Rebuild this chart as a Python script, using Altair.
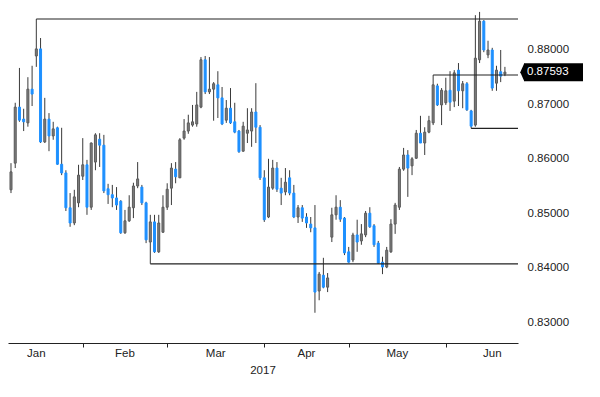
import altair as alt
import pandas as pd

# ---- data (EUR/GBP daily candles) ----
dates = pd.bdate_range("2017-01-09", "2017-06-21")

opens = [
    0.8543, 0.8592, 0.8695, 0.8673, 0.8666, 0.8728, 0.8789, 0.8802, 0.8631, 0.8673,
    0.8642, 0.8657, 0.8590, 0.8574, 0.8510, 0.8482, 0.8519, 0.8568, 0.8589, 0.8511,
    0.8594, 0.8636, 0.8625, 0.8545, 0.8534, 0.8528, 0.8522, 0.8464, 0.8486, 0.8510,
    0.8550, 0.8548, 0.8519, 0.8447, 0.8484, 0.8429, 0.8465, 0.8511, 0.8546, 0.8581,
    0.8565, 0.8638, 0.8651, 0.8662, 0.8664, 0.8695, 0.8782, 0.8723, 0.8728, 0.8736,
    0.8712, 0.8671, 0.8693, 0.8668, 0.8651, 0.8614, 0.8647, 0.8651, 0.8686, 0.8658,
    0.8565, 0.8493, 0.8546, 0.8583, 0.8546, 0.8539, 0.8565, 0.8537, 0.8493, 0.8510,
    0.8493, 0.8480, 0.8473, 0.8357, 0.8386, 0.8364, 0.8456, 0.8497, 0.8511, 0.8491,
    0.8429, 0.8414, 0.8460, 0.8449, 0.8460, 0.8500, 0.8477, 0.8445, 0.8410, 0.8401,
    0.8429, 0.8480, 0.8511, 0.8581, 0.8607, 0.8587, 0.8601, 0.8647, 0.8629, 0.8649,
    0.8666, 0.8734, 0.8699, 0.8703, 0.8726, 0.8706, 0.8763, 0.8725, 0.8738, 0.8688,
    0.8662, 0.8782, 0.8853, 0.8791, 0.8800, 0.8739, 0.8760, 0.8756]

closes = [
    0.8576, 0.8695, 0.8671, 0.8668, 0.8728, 0.8719, 0.8802, 0.8631, 0.8673, 0.8642,
    0.8655, 0.8590, 0.8574, 0.8510, 0.8482, 0.8530, 0.8570, 0.8589, 0.8511, 0.8629,
    0.8644, 0.8625, 0.8541, 0.8534, 0.8528, 0.8515, 0.8464, 0.8486, 0.8511, 0.8550,
    0.8563, 0.8519, 0.8451, 0.8484, 0.8429, 0.8482, 0.8511, 0.8544, 0.8583, 0.8567,
    0.8635, 0.8651, 0.8666, 0.8668, 0.8699, 0.8782, 0.8723, 0.8728, 0.8738, 0.8712,
    0.8664, 0.8693, 0.8666, 0.8649, 0.8613, 0.8660, 0.8653, 0.8686, 0.8658, 0.8565,
    0.8488, 0.8548, 0.8583, 0.8544, 0.8537, 0.8557, 0.8537, 0.8493, 0.8510, 0.8491,
    0.8482, 0.8473, 0.8355, 0.8388, 0.8364, 0.8381, 0.8497, 0.8511, 0.8489, 0.8427,
    0.8410, 0.8460, 0.8447, 0.8462, 0.8500, 0.8475, 0.8442, 0.8408, 0.8401, 0.8432,
    0.8480, 0.8515, 0.8581, 0.8607, 0.8583, 0.8600, 0.8647, 0.8629, 0.8649, 0.8670,
    0.8736, 0.8699, 0.8726, 0.8725, 0.8704, 0.8758, 0.8725, 0.8738, 0.8690, 0.8660,
    0.8785, 0.8853, 0.8800, 0.8800, 0.8730, 0.8763, 0.8752, 0.87593]

highs = [
    0.8592, 0.8703, 0.8767, 0.8692, 0.8750, 0.8771, 0.8857, 0.8822, 0.8712, 0.8684,
    0.8668, 0.8659, 0.8657, 0.8579, 0.8537, 0.8543, 0.8589, 0.8638, 0.8598, 0.8630,
    0.8647, 0.8647, 0.8644, 0.8554, 0.8552, 0.8548, 0.8524, 0.8506, 0.8533, 0.8556,
    0.8594, 0.8552, 0.8521, 0.8497, 0.8497, 0.8497, 0.8533, 0.8555, 0.8592, 0.8594,
    0.8638, 0.8673, 0.8681, 0.8699, 0.8723, 0.8787, 0.8789, 0.8787, 0.8741, 0.8761,
    0.8732, 0.8708, 0.8730, 0.8703, 0.8653, 0.8668, 0.8693, 0.8693, 0.8739, 0.8662,
    0.8579, 0.8600, 0.8598, 0.8594, 0.8565, 0.8583, 0.8579, 0.8552, 0.8515, 0.8515,
    0.8500, 0.8493, 0.8515, 0.8392, 0.8418, 0.8390, 0.8510, 0.8533, 0.8524, 0.8493,
    0.8438, 0.8464, 0.8488, 0.8480, 0.8504, 0.8511, 0.8480, 0.8449, 0.8420, 0.8438,
    0.8489, 0.8519, 0.8585, 0.8620, 0.8616, 0.8603, 0.8653, 0.8679, 0.8658, 0.8679,
    0.8754, 0.8738, 0.8730, 0.8749, 0.8761, 0.8763, 0.8776, 0.8743, 0.8741, 0.8690,
    0.8864, 0.8870, 0.8855, 0.8817, 0.8804, 0.8771, 0.8800, 0.8769]

lows = [
    0.8537, 0.8583, 0.8668, 0.8651, 0.8659, 0.8697, 0.8769, 0.8629, 0.8629, 0.8614,
    0.8635, 0.8589, 0.8570, 0.8504, 0.8475, 0.8478, 0.8511, 0.8561, 0.8497, 0.8506,
    0.8579, 0.8585, 0.8537, 0.8517, 0.8511, 0.8506, 0.8462, 0.8462, 0.8484, 0.8491,
    0.8546, 0.8515, 0.8445, 0.8407, 0.8427, 0.8427, 0.8464, 0.8506, 0.8515, 0.8555,
    0.8565, 0.8635, 0.8646, 0.8659, 0.8659, 0.8693, 0.8719, 0.8719, 0.8670, 0.8675,
    0.8662, 0.8666, 0.8664, 0.8647, 0.8611, 0.8613, 0.8629, 0.8622, 0.8629, 0.8561,
    0.8484, 0.8491, 0.8543, 0.8539, 0.8515, 0.8533, 0.8533, 0.8491, 0.8482, 0.8484,
    0.8473, 0.8465, 0.8317, 0.8340, 0.8362, 0.8355, 0.8447, 0.8488, 0.8484, 0.8423,
    0.8409, 0.8410, 0.8429, 0.8442, 0.8456, 0.8473, 0.8438, 0.8407, 0.8388, 0.8399,
    0.8427, 0.8462, 0.8506, 0.8578, 0.8530, 0.8570, 0.8600, 0.8629, 0.8607, 0.8647,
    0.8662, 0.8697, 0.8662, 0.8699, 0.8688, 0.8695, 0.8697, 0.8693, 0.8688, 0.8656,
    0.8659, 0.8776, 0.8796, 0.8785, 0.8725, 0.8725, 0.8741, 0.8752]

# horizontal levels: (candle index where it starts, price)
level_start = [6, 33, 100, 109]
level_price = [0.8857, 0.8407, 0.8754, 0.8656]

last_price = 0.87593
y_ticks = [0.83, 0.84, 0.85, 0.86, 0.87, 0.88]
month_names = ["Jan", "Feb", "Mar", "Apr", "May", "Jun"]
year_label = "2017"

FONT = "Liberation Sans"
FS = 11.5

# ---- tables ----
n = len(dates)
df = pd.DataFrame({
    "i": list(range(n)),
    "date": dates[:n],
    "open": opens, "high": highs, "low": lows, "close": closes,
})
df["dir"] = ["up" if c >= o else "down" for o, c in zip(opens, closes)]
df["lo"] = df[["open", "close"]].min(axis=1)
df["hi"] = df[["open", "close"]].max(axis=1)

# month boundaries in trading-day index units (weekday calendar)
all_days = pd.bdate_range("2017-01-02", "2017-07-03")
base = list(all_days).index(dates[0])
month_start_idx = []
for m in range(1, 8):
    first = [k for k, d in enumerate(all_days) if d.month == m][0]
    month_start_idx.append(first - base)
tick_vals = month_start_idx[1:6]
month_df = pd.DataFrame({
    "name": month_names,
    "pos": [(month_start_idx[k] + month_start_idx[k + 1]) / 2 for k in range(6)],
})
year_df = pd.DataFrame({"name": [year_label], "pos": [59.7]})
lev_df = pd.DataFrame({"i": level_start, "price": level_price})
last_df = pd.DataFrame({"price": [last_price], "txt": [f"{last_price:.5f}"]})

px_per_unit = 335 / (0.88772 - 0.82614)
half_box = 9 / px_per_unit

x_scale = alt.Scale(domain=[-0.71, 120.1], nice=False, zero=False, padding=0)
y_scale = alt.Scale(domain=[0.82614, 0.88772], nice=False, zero=False)

x_axis = alt.Axis(values=tick_vals, labels=False, ticks=True, tickSize=4, tickColor="#222",
                  domainColor="#222", domainWidth=1.2, grid=False, title=None)
y_axis = alt.Axis(orient="right", values=y_ticks, format=".5f", domain=False, ticks=False,
                  grid=False, labelPadding=9, labelFont=FONT, labelFontSize=FS,
                  labelColor="#222", title=None)

base_chart = alt.Chart(df)

wicks = base_chart.mark_rule(color="#3a3a3a", strokeWidth=1).encode(
    x=alt.X("i:Q", scale=x_scale, axis=x_axis),
    y=alt.Y("low:Q", scale=y_scale, axis=y_axis),
    y2="high:Q",
)

bodies = base_chart.mark_bar(size=2, strokeWidth=1).encode(
    x=alt.X("i:Q", scale=x_scale),
    y=alt.Y("lo:Q", scale=y_scale),
    y2="hi:Q",
    fill=alt.Fill("dir:N", scale=alt.Scale(domain=["up", "down"], range=["#7d7d7d", "#1e90ff"]), legend=None),
    stroke=alt.Stroke("dir:N", scale=alt.Scale(domain=["up", "down"], range=["#5a5a5a", "#1e90ff"]), legend=None),
)

levels = alt.Chart(lev_df).mark_rule(color="#222", strokeWidth=1.2).encode(
    x=alt.X("i:Q", scale=x_scale),
    x2=alt.value(510),
    y=alt.Y("price:Q", scale=y_scale),
)

tag_box = alt.Chart(last_df).transform_calculate(
    top=f"datum.price + {half_box}", bot=f"datum.price - {half_box}"
).mark_rect(color="black").encode(
    x=alt.value(516), x2=alt.value(575),
    y=alt.Y("top:Q", scale=y_scale), y2="bot:Q",
)

tag_tip = alt.Chart(last_df).mark_point(
    shape="M-0.45,0L0,-1L0,1Z", size=324, filled=True, color="black", opacity=1,
).encode(x=alt.value(516.3), y=alt.Y("price:Q", scale=y_scale))

tag_text = alt.Chart(last_df).mark_text(
    align="left", baseline="middle", color="white", font=FONT, fontSize=FS,
).encode(x=alt.value(519), y=alt.Y("price:Q", scale=y_scale), text="txt:N")

months = alt.Chart(month_df).mark_text(
    align="center", baseline="middle", color="#222", font=FONT, fontSize=FS,
).encode(x=alt.X("pos:Q", scale=x_scale), y=alt.value(346), text="name:N")

year = alt.Chart(year_df).mark_text(
    align="center", baseline="middle", color="#222", font=FONT, fontSize=FS,
).encode(x=alt.X("pos:Q", scale=x_scale), y=alt.value(363), text="name:N")

chart = alt.layer(wicks, bodies, levels, tag_box, tag_tip, tag_text, months, year).properties(
    width=510, height=335, padding=0,
).configure_view(stroke=None)

chart.save("out.html", embed_options={"renderer": "svg", "actions": False})
